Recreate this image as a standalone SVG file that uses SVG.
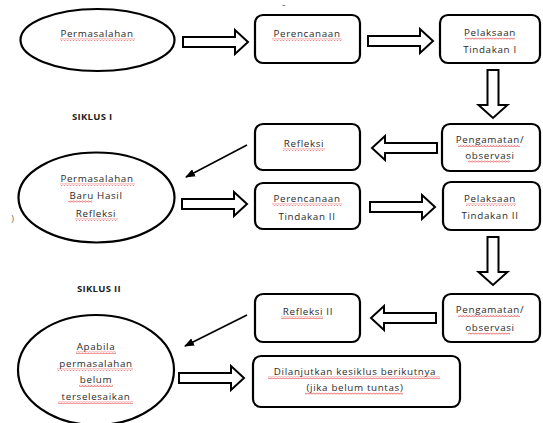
<svg xmlns="http://www.w3.org/2000/svg" width="543" height="423" viewBox="0 0 543 423">
<defs>
<style>
.n{fill:#fff;stroke:#000;stroke-width:2.2}
.t{font-family:"Open Sans","Liberation Sans",sans-serif;font-size:9.8px;fill:#2a2a2a;text-anchor:middle;letter-spacing:0.65px}
.h{font-family:"Open Sans","Liberation Sans",sans-serif;font-size:9.5px;font-weight:bold;fill:#222;letter-spacing:0.3px}
.blk{fill:#fff;stroke:#000;stroke-width:2;stroke-linejoin:miter}
.ln{stroke:#000;stroke-width:1.6;fill:none}
.sq{fill:url(#wave)}
</style>
<pattern id="wave" width="3" height="2.5" patternUnits="userSpaceOnUse">
<path d="M0,2 L1.5,0.5 L3,2" stroke="#e02020" stroke-width="0.8" fill="none"/>
</pattern>
<path id="ra" d="M0,-5 H52 V-12 L65,0 L52,12 V5 H0 Z"/>
<path id="da" d="M-5.5,0 V35 H-14.5 L0,48 L14.5,35 H5.5 V0 Z"/>
<marker id="ah" markerWidth="10" markerHeight="8" refX="9" refY="4" orient="auto" markerUnits="userSpaceOnUse">
<path d="M0,0 L10,4 L0,8 Z" fill="#000"/>
</marker>
</defs>
<rect width="543" height="423" fill="#fff"/>

<g id="connectors">
<use href="#ra" class="blk" transform="translate(183,42)"/>
<use href="#ra" class="blk" transform="translate(368,41)"/>
<use href="#da" class="blk" transform="translate(493,70)"/>
<use href="#ra" class="blk" transform="translate(437,148) rotate(180)"/>
<line class="ln" x1="247" y1="145" x2="186" y2="177" marker-end="url(#ah)"/>
<use href="#ra" class="blk" transform="translate(182,204)"/>
<use href="#ra" class="blk" transform="translate(370,207)"/>
<use href="#da" class="blk" transform="translate(493,237)"/>
<use href="#ra" class="blk" transform="translate(436,318) rotate(180)"/>
<line class="ln" x1="247" y1="315" x2="185" y2="346" marker-end="url(#ah)"/>
<use href="#ra" class="blk" transform="translate(179,378)"/>
</g>

<text class="h" x="72" y="120">SIKLUS I</text>
<text class="h" x="77" y="292">SIKLUS II</text>
<text class="t" x="284" y="7" style="font-size:7px">–</text>
<text class="t" x="13" y="222" style="font-size:9px;fill:#666">)</text>

<g id="n1">
<ellipse class="n" cx="97.5" cy="40" rx="77" ry="31"/>
<text class="t" x="97" y="37">Permasalahan</text>
<rect class="sq" x="60" y="38.5" width="75" height="2.5"/>
</g>
<g id="n2">
<rect class="n" x="255" y="15" width="105" height="48" rx="8"/>
<text class="t" x="307" y="37">Perencanaan</text>
<rect class="sq" x="272" y="38.5" width="70" height="2.5"/>
</g>
<g id="n3">
<rect class="n" x="440" y="15" width="100" height="48" rx="8"/>
<text class="t" x="490" y="36">Pelaksaan</text>
<rect class="sq" x="465" y="37.5" width="50" height="2.5"/>
<text class="t" x="490" y="53">Tindakan I</text>
</g>
<g id="n4">
<rect class="n" x="255" y="124" width="105" height="46" rx="8"/>
<text class="t" x="304" y="147">Refleksi</text>
<rect class="sq" x="283" y="148.5" width="42" height="2.5"/>
</g>
<g id="n5">
<rect class="n" x="442" y="124" width="98" height="47" rx="8"/>
<text class="t" x="490" y="143">Pengamatan/</text>
<rect class="sq" x="458" y="144.5" width="62" height="2.5"/>
<text class="t" x="490" y="159">observasi</text>
<rect class="sq" x="468" y="160.5" width="42" height="2.5"/>
</g>
<g id="n6">
<ellipse class="n" cx="96.5" cy="197.5" rx="78" ry="45"/>
<text class="t" x="97" y="182">Permasalahan</text>
<rect class="sq" x="60" y="183.5" width="75" height="2.5"/>
<text class="t" x="96" y="199">Baru Hasil</text>
<rect class="sq" x="68" y="200.5" width="24" height="2.5"/>
<text class="t" x="96" y="217">Refleksi</text>
<rect class="sq" x="75" y="218.5" width="43" height="2.5"/>
</g>
<g id="n7">
<rect class="n" x="255" y="183" width="105" height="46" rx="8"/>
<text class="t" x="307" y="202">Perencanaan</text>
<rect class="sq" x="272" y="203.5" width="70" height="2.5"/>
<text class="t" x="307" y="220">Tindakan II</text>
</g>
<g id="n8">
<rect class="n" x="443" y="182" width="97" height="48" rx="8"/>
<text class="t" x="490" y="202">Pelaksaan</text>
<rect class="sq" x="466" y="203.5" width="50" height="2.5"/>
<text class="t" x="490" y="219">Tindakan II</text>
</g>
<g id="n9">
<rect class="n" x="255" y="294" width="105" height="48" rx="8"/>
<text class="t" x="308" y="315">Refleksi II</text>
<rect class="sq" x="281" y="316.5" width="42" height="2.5"/>
</g>
<g id="n10">
<rect class="n" x="443" y="294" width="97" height="48" rx="8"/>
<text class="t" x="490" y="313">Pengamatan/</text>
<rect class="sq" x="458" y="314.5" width="62" height="2.5"/>
<text class="t" x="490" y="331">observasi</text>
<rect class="sq" x="468" y="332.5" width="42" height="2.5"/>
</g>
<g id="n11">
<ellipse class="n" cx="96" cy="370" rx="78" ry="55"/>
<text class="t" x="96" y="350">Apabila</text>
<rect class="sq" x="76" y="351.5" width="40" height="2.5"/>
<text class="t" x="96" y="367">permasalahan</text>
<rect class="sq" x="57" y="368.5" width="76" height="2.5"/>
<text class="t" x="96" y="383">belum</text>
<rect class="sq" x="79" y="384.5" width="34" height="2.5"/>
<text class="t" x="96" y="400">terselesaikan</text>
<rect class="sq" x="58" y="401.5" width="75" height="2.5"/>
</g>
<g id="n12">
<rect class="n" x="253" y="356" width="207" height="51" rx="8"/>
<text class="t" x="355" y="375">Dilanjutkan kesiklus berikutnya</text>
<rect class="sq" x="268" y="376.5" width="172" height="2.5"/>
<text class="t" x="355" y="391">(jika belum tuntas)</text>
<rect class="sq" x="305" y="392.5" width="98" height="2.5"/>
</g>
</svg>
